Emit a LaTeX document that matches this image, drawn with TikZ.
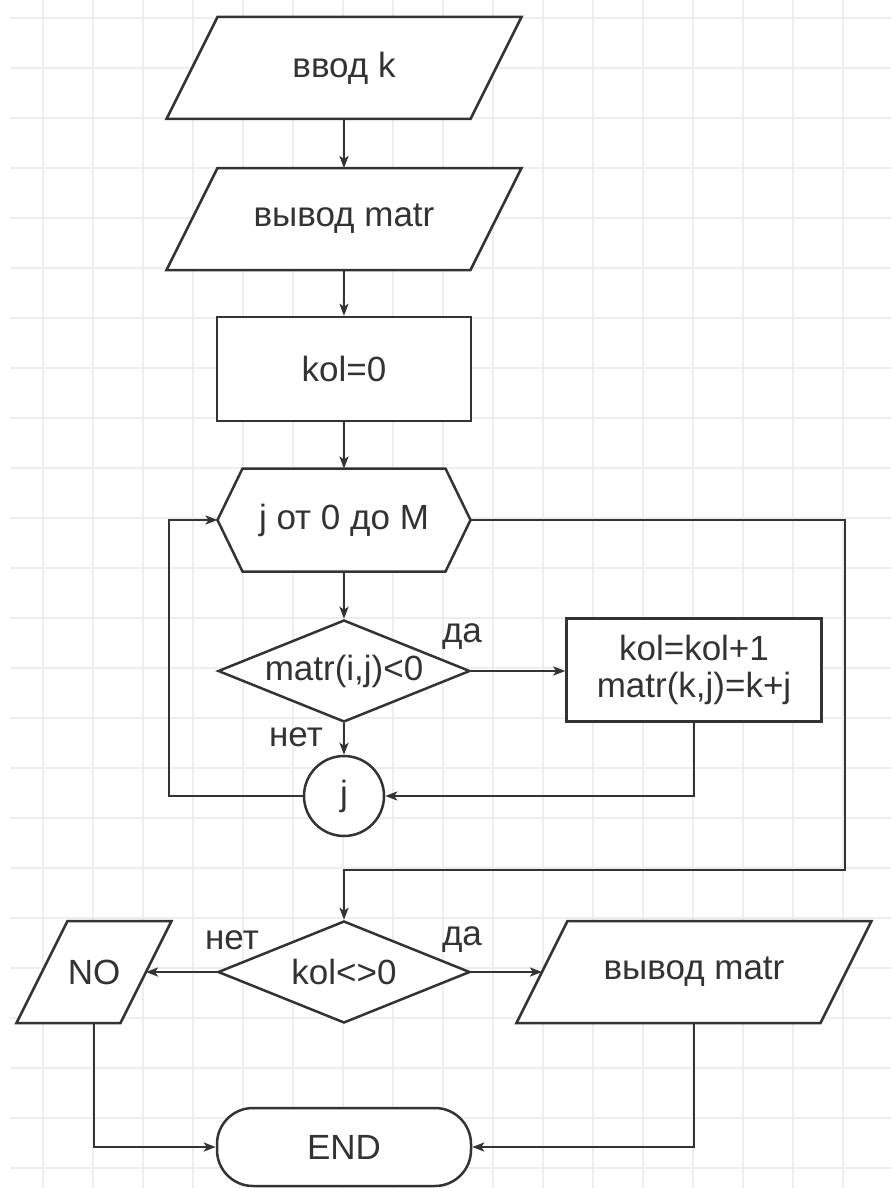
\documentclass[tikz,border=0pt]{standalone}
\usepackage{fontspec}
\setmainfont{Liberation Sans}
\usetikzlibrary{arrows.meta,shapes.geometric,calc}
\pgfdeclarelayer{gridlayer}
\pgfdeclarelayer{shapelayer}
\pgfsetlayers{gridlayer,shapelayer,main}
\definecolor{lc}{HTML}{333333}
\definecolor{gc}{HTML}{EEEEEE}
\begin{document}
\begin{tikzpicture}[x=1pt,y=-1pt,
  every node/.style={font=\fontsize{35}{37}\selectfont, text=lc},
  line/.style={draw=lc, line width=2.5pt},
  arr/.style={line, -{Stealth[length=12pt,width=9pt,inset=3pt]}},
  box/.style={rectangle, draw=lc, line width=2.5pt, fill=white, inner sep=0pt},
  frame/.style={rectangle, inner sep=0pt, outer sep=0pt},
  shp/.style={draw=lc, line width=2.5pt, fill=white, line join=miter},
  dec/.style={diamond, draw=lc, line width=2.5pt, fill=white, aspect=2.48, inner sep=0pt, minimum width=252pt, minimum height=102pt},
  lbl/.style={inner sep=0pt}
]
\useasboundingbox (0,0) rectangle (891,1188);
\begin{pgfonlayer}{gridlayer}
\fill[white] (0,0) rectangle (891,1188);
\foreach \i in {0,...,16} \draw[gc, line width=2pt] (43+50*\i,0) -- (43+50*\i,1188);
\foreach \i in {0,...,23} \draw[gc, line width=2pt] (10,18+50*\i) -- (891,18+50*\i);
\end{pgfonlayer}

\node[frame, minimum width=304pt, minimum height=102pt] (in1) at (344,68) {ввод k};
\node[frame, minimum width=304pt, minimum height=102pt] (in2) at (344,219) {вывод matr};
\node[box, minimum width=254pt, minimum height=104pt] (r1) at (344,369) {kol=0};
\node[frame, minimum width=253pt, minimum height=103pt] (hx) at (344,520) {j от 0 до M};
\node[dec] (d1) at (344,671) {matr(i,j)<0};
\node[box, minimum width=255pt, minimum height=103pt, align=center] (r2) at (694,670) {kol=kol+1\\matr(k,j)=k+j};
\node[circle, draw=lc, line width=2.5pt, fill=white, minimum size=80pt, inner sep=0pt] (c1) at (344,796) {j};
\node[dec] (d2) at (344,972) {kol<>0};
\node[frame, minimum width=104pt, minimum height=102pt] (no) at (94,972) {NO};
\node[frame, minimum width=304pt, minimum height=102pt] (out) at (694,972) {вывод matr};
\node[box, rounded corners=36pt, minimum width=254pt, minimum height=78pt] (end) at (344,1147) {END};

\begin{pgfonlayer}{shapelayer}
\foreach \n in {in1,in2,out,no}
  \draw[shp] ([xshift=25.5pt]\n.north west) -- ([xshift=25.5pt]\n.north east) -- ([xshift=-25.5pt]\n.south east) -- ([xshift=-25.5pt]\n.south west) -- cycle;
\draw[shp] ([xshift=25pt]hx.north west) -- ([xshift=-25pt]hx.north east) -- (hx.east) -- ([xshift=-25pt]hx.south east) -- ([xshift=25pt]hx.south west) -- (hx.west) -- cycle;
\end{pgfonlayer}

\node[lbl] (l1) at (462,637) {да};
\node[lbl] (l2) at (296,737) {нет};
\node[lbl] (l3) at (232,940) {нет};
\node[lbl] (l4) at (462,940) {да};

\coordinate (lx) at (169,520);
\coordinate (rx) at (845,870);
\draw[arr] (in1.south) -- (in2.north);
\draw[arr] (in2.south) -- (r1.north);
\draw[arr] (r1.south) -- (hx.north);
\draw[arr] (hx.south) -- (d1.north);
\draw[arr] (d1.east) -- (r2.west |- d1.east);
\draw[arr] (d1.south) -- (c1.north);
\draw[arr] (r2.south) |- (c1.east);
\draw[arr] (c1.west) -| (lx) -- (hx.west);
\draw[arr] (hx.east) -| (rx) -- (d2.north |- rx) -- (d2.north);
\draw[arr] (d2.west) -- (no.east);
\draw[arr] (d2.east) -- (out.west);
\draw[arr] (no.south) |- (end.west);
\draw[arr] (out.south) |- (end.east);
\end{tikzpicture}
\end{document}
